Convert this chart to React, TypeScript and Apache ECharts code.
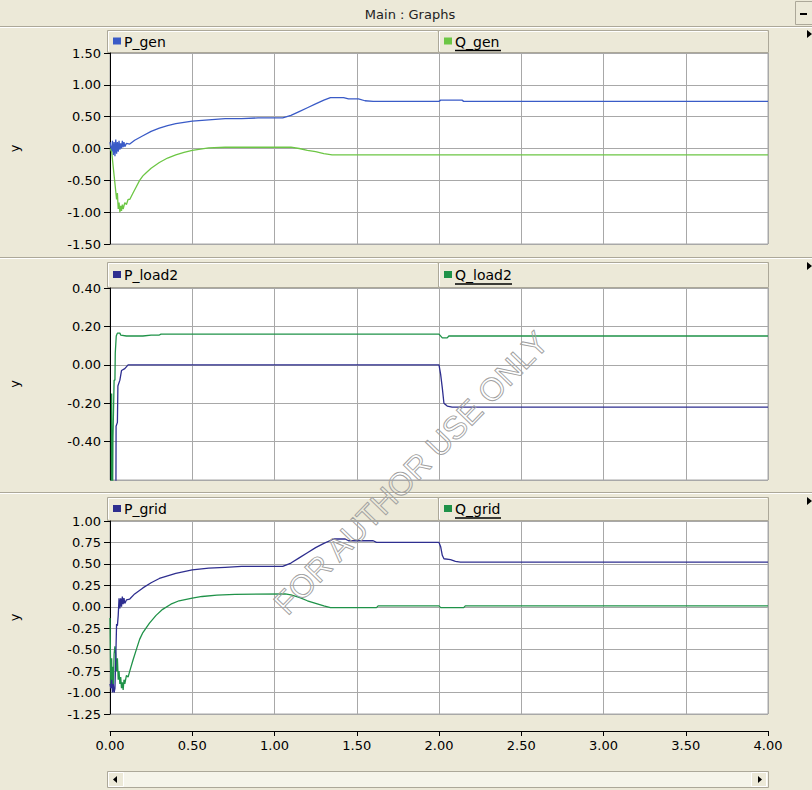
import React, { useEffect, useRef } from "react";
import * as echarts from "echarts";

// ---- data (time [s], value [pu]) ----
const P_GEN: [number, number][] = [
  [0, 0.1], [0.01, -0.05], [0.015, 0.12], [0.02, -0.1], [0.025, 0.1], [0.03, -0.12], [0.035, 0.14],
  [0.04, -0.08], [0.045, 0.1], [0.05, -0.05], [0.055, 0.12], [0.06, -0.02], [0.065, 0.08], [0.07, 0.0],
  [0.075, 0.12], [0.08, 0.02], [0.085, 0.1], [0.09, 0.03], [0.1, 0.08], [0.12, 0.07], [0.15, 0.13],
  [0.2, 0.2], [0.25, 0.27], [0.3, 0.32], [0.35, 0.36], [0.4, 0.39], [0.5, 0.43], [0.6, 0.45],
  [0.7, 0.47], [0.8, 0.47], [0.9, 0.48], [1.05, 0.48], [1.1, 0.52], [1.15, 0.58], [1.2, 0.64],
  [1.25, 0.7], [1.3, 0.76], [1.34, 0.8], [1.42, 0.8], [1.45, 0.78], [1.51, 0.78], [1.55, 0.75],
  [1.6, 0.74], [2.0, 0.74], [2.01, 0.76], [2.14, 0.76], [2.15, 0.74], [4.0, 0.74],
];
const Q_GEN: [number, number][] = [
  [0, 0.0], [0.01, -0.05], [0.02, -0.3], [0.03, -0.55], [0.04, -0.8], [0.045, -0.7], [0.05, -0.95],
  [0.055, -0.85], [0.06, -1.0], [0.065, -0.9], [0.07, -0.98], [0.075, -0.88], [0.08, -0.95],
  [0.09, -0.85], [0.1, -0.88], [0.11, -0.8], [0.12, -0.8], [0.14, -0.7], [0.16, -0.6], [0.18, -0.5],
  [0.2, -0.43], [0.22, -0.38], [0.25, -0.31], [0.3, -0.22], [0.35, -0.15], [0.4, -0.1], [0.45, -0.06],
  [0.5, -0.03], [0.55, -0.01], [0.6, 0.01], [0.7, 0.02], [1.1, 0.02], [1.15, 0.0], [1.2, -0.03],
  [1.25, -0.05], [1.3, -0.08], [1.35, -0.1], [4.0, -0.1],
];
const P_LOAD2: [number, number][] = [
  [0, -1.0], [0.035, -1.0], [0.037, -0.32], [0.045, -0.3], [0.048, -0.11], [0.06, -0.08],
  [0.07, -0.03], [0.09, -0.02], [0.11, 0.0], [2.0, 0.0], [2.01, -0.05], [2.02, -0.12],
  [2.03, -0.2], [2.05, -0.215], [2.08, -0.22], [4.0, -0.22],
];
const Q_LOAD2: [number, number][] = [
  [0, -1.0], [0.008, -1.0], [0.01, -0.15], [0.012, -0.15], [0.014, -1.0], [0.018, -0.38],
  [0.022, -0.38], [0.025, -0.08], [0.03, -0.08], [0.032, 0.06], [0.035, 0.06], [0.038, 0.15],
  [0.045, 0.165], [0.06, 0.165], [0.065, 0.155], [0.1, 0.15], [0.2, 0.15], [0.25, 0.155],
  [0.3, 0.155], [0.31, 0.16], [2.0, 0.16], [2.02, 0.14], [2.05, 0.14], [2.06, 0.15], [4.0, 0.15],
];
const P_GRID: [number, number][] = [
  [0, -0.9], [0.005, -0.95], [0.01, -0.85], [0.015, -1.0], [0.02, -0.9], [0.025, -1.0], [0.03, -0.95],
  [0.035, -0.6], [0.04, -0.2], [0.045, -0.22], [0.05, -0.1], [0.055, 0.1], [0.06, -0.02],
  [0.065, 0.1], [0.07, 0.0], [0.075, 0.12], [0.08, 0.03], [0.085, 0.1], [0.09, 0.04], [0.1, 0.08],
  [0.12, 0.09], [0.15, 0.15], [0.2, 0.22], [0.25, 0.28], [0.3, 0.33], [0.35, 0.36], [0.4, 0.39],
  [0.5, 0.43], [0.6, 0.45], [0.7, 0.46], [0.8, 0.47], [1.05, 0.47], [1.1, 0.51], [1.15, 0.57],
  [1.2, 0.63], [1.25, 0.69], [1.3, 0.74], [1.36, 0.79], [1.43, 0.79], [1.45, 0.77], [1.6, 0.77],
  [1.62, 0.75], [2.0, 0.75], [2.01, 0.7], [2.02, 0.6], [2.03, 0.56], [2.07, 0.55], [2.1, 0.53],
  [2.13, 0.52], [4.0, 0.52],
];
const Q_GRID: [number, number][] = [
  [0, -0.13], [0.005, -0.93], [0.01, -0.6], [0.012, -0.9], [0.015, -0.7], [0.02, -0.95],
  [0.025, -0.55], [0.03, -0.46], [0.035, -0.55], [0.04, -0.75], [0.045, -0.6], [0.05, -0.85],
  [0.055, -0.75], [0.06, -0.9], [0.065, -0.82], [0.07, -0.95], [0.075, -0.88], [0.08, -0.97],
  [0.085, -0.85], [0.09, -0.9], [0.1, -0.8], [0.11, -0.82], [0.12, -0.75], [0.14, -0.62],
  [0.16, -0.5], [0.18, -0.38], [0.2, -0.3], [0.24, -0.19], [0.28, -0.1], [0.32, -0.03],
  [0.37, 0.03], [0.42, 0.07], [0.5, 0.1], [0.56, 0.12], [0.65, 0.135], [0.76, 0.145],
  [1.065, 0.15], [1.1, 0.14], [1.15, 0.11], [1.2, 0.07], [1.25, 0.04], [1.3, 0.01], [1.34, -0.01],
  [1.62, -0.01], [1.63, 0.01], [2.0, 0.01], [2.01, -0.01], [2.15, -0.01], [2.16, 0.01], [4.0, 0.01],
];

// axis ranges: [min, max, interval]
const X_RANGE = [0, 4, 0.5];
const Y1_RANGE = [-1.5, 1.5, 0.5];
const Y2_RANGE = [-0.6, 0.4, 0.2];
const Y3_RANGE = [-1.25, 1.0, 0.25];

const PANEL_TITLES = [
  ["P_gen", "Q_gen"],
  ["P_load2", "Q_load2"],
  ["P_grid", "Q_grid"],
];

const COLORS = {
  pGen: "#3A5BC7",
  qGen: "#6CC644",
  pDark: "#2E2E8F",
  qDark: "#1F9248",
};

const BEIGE = "#ECE9D8";
const EDGE = "#ACA899";
const FONT = "DejaVu Sans";

export default function App() {
  const ref = useRef<HTMLDivElement>(null);

  useEffect(() => {
    if (!ref.current) return;
    const chart = echarts.init(ref.current, undefined, { renderer: "svg" });

    const L = 107;
    const W = 661;
    const grids = [
      { top: 53, height: 191 },
      { top: 288, height: 192 },
      { top: 521, height: 193 },
    ];
    const yRanges = [Y1_RANGE, Y2_RANGE, Y3_RANGE];
    const headerCells = [
      { top: 30, h: 23 },
      { top: 262, h: 26 },
      { top: 497, h: 24 },
    ];
    const legendColors = [
      [COLORS.pGen, COLORS.qGen],
      [COLORS.pDark, COLORS.qDark],
      [COLORS.pDark, COLORS.qDark],
    ];
    const underlineW = [46, 57, 46];

    const graphic: any[] = [];
    // title bar
    graphic.push({ type: "rect", shape: { x: 0, y: 0, width: 812, height: 26 }, style: { fill: BEIGE } });
    graphic.push({ type: "line", shape: { x1: 0, y1: 26.5, x2: 812, y2: 26.5 }, style: { stroke: EDGE, lineWidth: 1 } });
    graphic.push({ type: "line", shape: { x1: 0, y1: 27.5, x2: 812, y2: 27.5 }, style: { stroke: "#fff", lineWidth: 1 } });
    graphic.push({
      type: "text", x: 410, y: 14,
      style: { text: "Main : Graphs", fill: "#222", font: `13px "${FONT}"`, textAlign: "center", textVerticalAlign: "middle" },
    });
    graphic.push({ type: "rect", shape: { x: 795.5, y: 1.5, width: 17, height: 23 }, style: { fill: BEIGE, stroke: EDGE, lineWidth: 1 } });
    graphic.push({ type: "rect", shape: { x: 800, y: 13, width: 7, height: 2 }, style: { fill: "#000" } });

    // panel separators
    [257, 492].forEach((y) => {
      graphic.push({ type: "line", shape: { x1: 0, y1: y + 0.5, x2: 812, y2: y + 0.5 }, style: { stroke: EDGE, lineWidth: 1 } });
      graphic.push({ type: "line", shape: { x1: 0, y1: y + 1.5, x2: 812, y2: y + 1.5 }, style: { stroke: "#fff", lineWidth: 1 } });
    });

    headerCells.forEach((c, i) => {
      const mid = c.top + c.h / 2;
      const cells = [
        { x: L, w: 331 },
        { x: L + 331, w: W - 331 },
      ];
      cells.forEach((cell, j) => {
        graphic.push({
          type: "rect",
          shape: { x: cell.x + 0.5, y: c.top + 0.5, width: cell.w, height: c.h - 1 },
          style: { fill: BEIGE, stroke: EDGE, lineWidth: 1 },
        });
        graphic.push({
          type: "polyline",
          shape: { points: [[cell.x + 1.5, c.top + c.h - 2], [cell.x + 1.5, c.top + 1.5], [cell.x + cell.w - 1, c.top + 1.5]] },
          style: { stroke: "#fff", lineWidth: 1, fill: null },
        });
        graphic.push({
          type: "rect",
          shape: { x: cell.x + 6, y: mid - 4, width: 8, height: 7 },
          style: { fill: legendColors[i][j] },
        });
        graphic.push({
          type: "text", x: cell.x + 17, y: mid,
          style: { text: PANEL_TITLES[i][j], fill: "#000", font: `14px "${FONT}"`, textVerticalAlign: "middle" },
        });
        if (j === 1) {
          graphic.push({
            type: "line",
            shape: { x1: cell.x + 17, y1: mid + 9, x2: cell.x + 17 + underlineW[i], y2: mid + 9 },
            style: { stroke: "#000", lineWidth: 1.5 },
          });
        }
      });
      // right-side triangle marker
      graphic.push({
        type: "polygon",
        shape: { points: [[807, c.top], [812, c.top + 4], [807, c.top + 8]] },
        style: { fill: "#000" },
      });
    });

    // scrollbar
    graphic.push({ type: "rect", shape: { x: L + 0.5, y: 771.5, width: W, height: 16 }, style: { fill: "#F5F4EA", stroke: EDGE, lineWidth: 1 } });
    graphic.push({ type: "rect", shape: { x: L + 1.5, y: 772.5, width: 15, height: 14 }, style: { fill: BEIGE, stroke: "#fff", lineWidth: 1 } });
    graphic.push({ type: "rect", shape: { x: L + W - 16.5, y: 772.5, width: 15, height: 14 }, style: { fill: BEIGE, stroke: "#fff", lineWidth: 1 } });
    graphic.push({ type: "polygon", shape: { points: [[L + 10, 776], [L + 6, 779.5], [L + 10, 783]] }, style: { fill: "#000" } });
    graphic.push({ type: "polygon", shape: { points: [[L + W - 10, 776], [L + W - 6, 779.5], [L + W - 10, 783]] }, style: { fill: "#000" } });

    // watermark
    graphic.push({
      type: "text", x: 411, y: 473, rotation: (46 * Math.PI) / 180, z: 100,
      style: {
        text: "FOR AUTHOR USE ONLY", font: `32px "Liberation Sans"`,
        fill: "rgba(255,255,255,0)", stroke: "#A0A0A0", lineWidth: 0.9,
        textAlign: "center", textVerticalAlign: "middle",
      },
    });

    const gridOpts = grids.map((g) => ({
      left: L, top: g.top, width: W, height: g.height,
      show: true, backgroundColor: "#fff", borderColor: "#A8A8A8", borderWidth: 1,
    }));

    const xAxes = grids.map((_, i) => ({
      type: "value", gridIndex: i,
      min: X_RANGE[0], max: X_RANGE[1], interval: X_RANGE[2],
      splitLine: { show: true, lineStyle: { color: "#A8A8A8", width: 1 } },
      axisLine: { show: i === 2, onZero: false, lineStyle: { color: "#000", width: 1 } },
      axisTick: { show: i === 2, length: 5, inside: false, lineStyle: { color: "#000" } },
      axisLabel: {
        show: i === 2, margin: 8, color: "#000", fontFamily: FONT, fontSize: 13,
        formatter: (v: number) => v.toFixed(2),
      },
      offset: i === 2 ? 17 : 0,
    }));

    const yAxes = grids.map((_, i) => ({
      type: "value", gridIndex: i,
      min: yRanges[i][0], max: yRanges[i][1], interval: yRanges[i][2],
      name: "y", nameLocation: "middle", nameGap: 89,
      nameTextStyle: { color: "#000", fontFamily: FONT, fontSize: 13 },
      splitLine: { show: true, lineStyle: { color: "#A8A8A8", width: 1 } },
      axisLine: { show: true, onZero: false, lineStyle: { color: "#000", width: 1 } },
      axisTick: { show: true, length: 6, inside: false, lineStyle: { color: "#000" } },
      axisLabel: {
        margin: 9, color: "#000", fontFamily: FONT, fontSize: 13,
        showMinLabel: i !== 1,
        formatter: (v: number) => v.toFixed(2),
      },
    }));

    const mk = (name: string, data: [number, number][], idx: number, color: string) => ({
      name, type: "line", xAxisIndex: idx, yAxisIndex: idx, data,
      symbol: "none", showSymbol: false, clip: true,
      lineStyle: { color, width: 1.3 }, itemStyle: { color },
    });

    chart.setOption({
      animation: false,
      backgroundColor: BEIGE,
      grid: gridOpts,
      xAxis: xAxes,
      yAxis: yAxes,
      graphic,
      series: [
        mk("P_gen", P_GEN, 0, COLORS.pGen),
        mk("Q_gen", Q_GEN, 0, COLORS.qGen),
        mk("Q_load2", Q_LOAD2, 1, COLORS.qDark),
        mk("P_load2", P_LOAD2, 1, COLORS.pDark),
        mk("Q_grid", Q_GRID, 2, COLORS.qDark),
        mk("P_grid", P_GRID, 2, COLORS.pDark),
      ],
    });

    return () => chart.dispose();
  }, []);

  return (
    <div
      ref={ref}
      style={{ position: "fixed", left: 0, top: 0, width: 812, height: 790 }}
    />
  );
}
